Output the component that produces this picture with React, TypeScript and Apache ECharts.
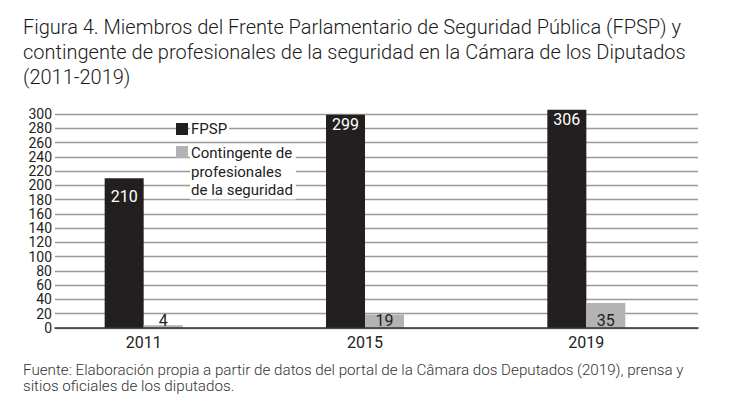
import React, { useEffect, useRef } from "react";
import * as echarts from "echarts";

const years = ["2011", "2015", "2019"];
const fpsp = [210, 299, 306];
const contingente = [4, 19, 35];
const seriesNames = ["FPSP", "Contingente de profesionales de la seguridad"];
const legendLabels = ["FPSP", "Contingente de\nprofesionales\nde la seguridad"];
const titleLines = [
  "Figura 4. Miembros del Frente Parlamentario de Seguridad Pública (FPSP) y",
  "contingente de profesionales de la seguridad en la Cámara de los Diputados",
  "(2011-2019)",
];
const sourceLines = [
  "Fuente: Elaboración propia a partir de datos del portal de la Câmara dos Deputados (2019), prensa y",
  "sitios oficiales de los diputados.",
];
const yMin = 0;
const yMax = 300;
const yInterval = 20;

const FONT = "Roboto, 'Liberation Sans', sans-serif";
const DARK = "#231f20";
const GRAY = "#b3b3b3";

const labelStyle = {
  margin: 3,
  fontSize: 14,
  lineHeight: 14,
  color: "#222",
  fontFamily: FONT,
  hideOverlap: false,
};

export default function App() {
  const ref = useRef<HTMLDivElement>(null);
  useEffect(() => {
    if (!ref.current) return;
    const chart = echarts.init(ref.current, null, { renderer: "svg" });
    const option: any = {
      animation: false,
      backgroundColor: "#fff",
      textStyle: { fontFamily: FONT },
      title: [
        {
          text: titleLines.join("\n"),
          left: 18,
          top: 9,
          textStyle: { fontFamily: FONT, fontSize: 20, lineHeight: 25, fontWeight: 300, color: "#1a1a1a" },
        },
        {
          text: sourceLines.join("\n"),
          left: 18,
          top: 357,
          textStyle: { fontFamily: FONT, fontSize: 15.2, lineHeight: 16, fontWeight: 300, color: "#333" },
        },
      ],
      grid: [
        { left: 55, right: 32, top: 114, height: 214 },
        { left: 33, right: 33, top: 114, height: 214 },
      ],
      xAxis: [
        {
          gridIndex: 0,
          type: "category",
          data: years,
          axisLine: { show: true, lineStyle: { color: "#333", width: 1.5 } },
          axisTick: { show: false },
          axisLabel: { show: false },
          z: 5,
        },
        {
          gridIndex: 1,
          type: "category",
          data: years,
          axisLine: { show: false },
          axisTick: { show: false },
          axisLabel: { margin: 6, fontSize: 16, color: "#222", fontFamily: FONT },
        },
      ],
      yAxis: [
        {
          gridIndex: 0,
          type: "value",
          min: yMin,
          max: yMax,
          interval: yInterval,
          axisLine: { show: false },
          axisTick: { show: false },
          axisLabel: {
            ...labelStyle,
            showMinLabel: true,
            showMaxLabel: true,
            formatter: (v: number) => (v % (2 * yInterval) === 0 ? String(v) : ""),
          },
          splitLine: { show: true, lineStyle: { color: "#999", width: 1.3 } },
        },
        {
          gridIndex: 0,
          type: "value",
          position: "left",
          offset: 0,
          min: yMin,
          max: yMax,
          interval: yInterval,
          axisLine: { show: false },
          axisTick: { show: false },
          axisLabel: {
            ...labelStyle,
            showMinLabel: true,
            showMaxLabel: true,
            formatter: (v: number) => (v % (2 * yInterval) !== 0 ? String(v) : ""),
          },
          splitLine: { show: false },
        },
        {
          gridIndex: 1,
          type: "value",
          min: yMin,
          max: yMax,
          interval: yInterval,
          show: false,
          splitLine: { show: false },
        },
      ],
      series: [
        {
          type: "bar",
          name: seriesNames[0],
          xAxisIndex: 1,
          yAxisIndex: 2,
          data: fpsp.map((v, i) => (i === 0 ? { value: v, label: { distance: 10 } } : v)),
          barWidth: 39,
          barGap: "0%",
          clip: false,
          itemStyle: { color: DARK },
          label: { show: true, position: "insideTop", distance: 2, color: "#fff", fontSize: 16, fontFamily: FONT },
          z: 3,
        },
        {
          type: "bar",
          name: seriesNames[1],
          xAxisIndex: 1,
          yAxisIndex: 2,
          data: contingente,
          barWidth: 39,
          barGap: "0%",
          clip: false,
          itemStyle: { color: GRAY },
          label: { show: true, position: "insideBottom", distance: 0, color: "#222", fontSize: 16, fontFamily: FONT },
          z: 3,
        },
      ],
      graphic: [
        { type: "rect", z: 10, shape: { x: 176, y: 123, width: 12, height: 12 }, style: { fill: DARK } },
        {
          type: "text",
          z: 10,
          x: 190,
          y: 129,
          style: {
            text: legendLabels[0],
            font: `15px ${FONT}`,
            fill: "#222",
            verticalAlign: "middle",
            backgroundColor: "#fff",
            padding: [0, 2, 0, 1],
          },
        },
        { type: "rect", z: 10, shape: { x: 176, y: 146, width: 12, height: 12 }, style: { fill: GRAY } },
        {
          type: "text",
          z: 10,
          x: 190,
          y: 144,
          style: {
            text: legendLabels[1],
            font: `15px ${FONT}`,
            lineHeight: 18.5,
            fill: "#222",
            verticalAlign: "top",
            backgroundColor: "#fff",
            padding: [0, 3, 0, 1],
          },
        },
      ],
    };
    chart.setOption(option);
    return () => chart.dispose();
  }, []);
  return <div ref={ref} style={{ position: "fixed", left: 0, top: 0, width: 730, height: 416 }} />;
}
